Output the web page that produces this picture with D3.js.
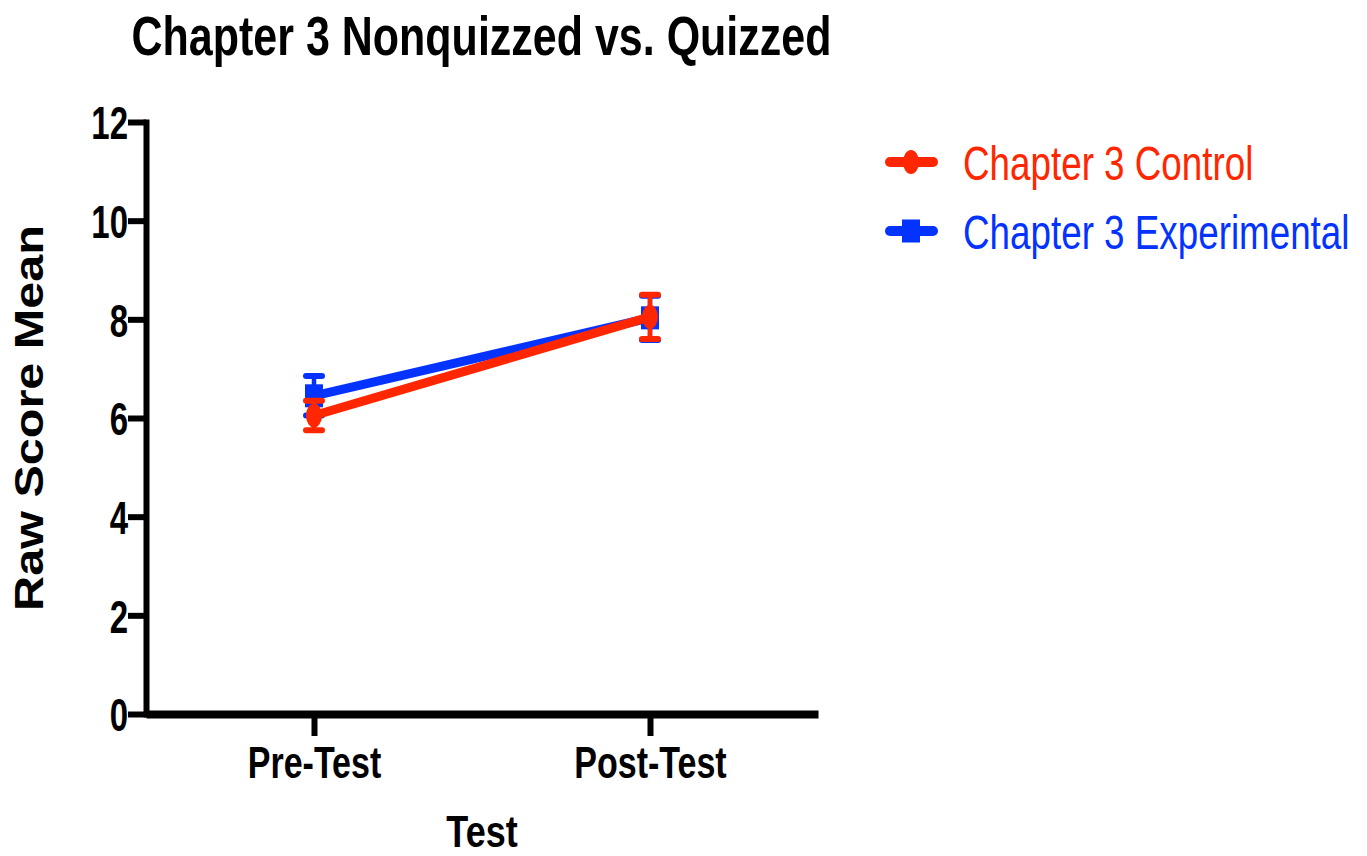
<!DOCTYPE html>
<html lang="en">
<head>
    <meta charset="UTF-8">
    <title>Chapter 3 Nonquizzed vs. Quizzed</title>
    <script src="https://d3js.org/d3.v7.min.js"></script>
    <style>
        body { margin: 0; background: #fff; }
        svg { display: block; }
        text { font-family: "Liberation Sans", Arial, sans-serif; }
    </style>
</head>
<body>
<svg id="chart" width="1367" height="856"></svg>
<script>
    // data
    const categories = ["Pre-Test", "Post-Test"];
    const controlMean = [6.05, 8.05];
    const controlErr = [0.3, 0.45];
    const experimentalMean = [6.45, 8.03];
    const experimentalErr = [0.4, 0.45];
    const yTicks = [0, 2, 4, 6, 8, 10, 12];
    const seriesNames = ["Chapter 3 Control", "Chapter 3 Experimental"];
    const seriesColors = ["#ff2600", "#0433ff"];

    const series = [
        {name: seriesNames[1], color: seriesColors[1], mean: experimentalMean, err: experimentalErr, shape: "square"},
        {name: seriesNames[0], color: seriesColors[0], mean: controlMean, err: controlErr, shape: "circle"}
    ];

    const svg = d3.select("#chart");

    const plotLeft = 146, plotRight = 818, plotTop = 122, plotBottom = 714;

    const x = d3.scalePoint().domain(categories).range([plotLeft, plotRight]).padding(0.5);
    const y = d3.scaleLinear().domain([0, 12]).range([plotBottom, plotTop]);

    // stretched text helper (the original chart is taller than it is wide)
    function label(g, txt, tx, ty, size, sy, opts = {}) {
        const t = g.append("text")
            .attr("transform", opts.rotate
                ? `translate(${tx},${ty}) rotate(-90) scale(${sy},1)`
                : `translate(${tx},${ty}) scale(1,${sy})`)
            .attr("font-size", size)
            .attr("text-anchor", opts.anchor || "middle")
            .attr("fill", opts.fill || "#000")
            .text(txt);
        if (opts.bold !== false) t.attr("font-weight", "bold");
        return t;
    }

    // title
    label(svg, "Chapter 3 Nonquizzed vs. Quizzed", 481.5, 55, 43, 1.3);

    // y axis
    const yAxis = svg.append("g")
        .attr("transform", `translate(${plotLeft},0)`)
        .call(d3.axisLeft(y).tickValues(yTicks).tickSize(18).tickSizeOuter(0).tickFormat(d3.format("d")));
    yAxis.select(".domain").attr("stroke-width", 6).attr("stroke-linecap", "square");
    yAxis.selectAll(".tick line").attr("stroke-width", 6);
    yAxis.selectAll(".tick text")
        .attr("x", -18)
        .attr("dy", "0.36em")
        .attr("font-size", 33)
        .attr("font-weight", "bold")
        .attr("font-family", "'Liberation Sans', Arial, sans-serif")
        .attr("transform", "scale(1,1.42)");

    // x axis
    const xAxis = svg.append("g")
        .attr("transform", `translate(0,${plotBottom})`)
        .call(d3.axisBottom(x).tickSize(22).tickSizeOuter(0));
    xAxis.select(".domain").attr("stroke-width", 8);
    xAxis.selectAll(".tick line").attr("stroke-width", 6);
    xAxis.selectAll(".tick text")
        .attr("y", 64 / 1.28)
        .attr("dy", 0)
        .attr("font-size", 34)
        .attr("font-weight", "bold")
        .attr("font-family", "'Liberation Sans', Arial, sans-serif")
        .attr("transform", "scale(1,1.28)");

    // axis titles
    label(svg, "Test", 482, 847, 36, 1.25);
    label(svg, "Raw Score Mean", 43, 418, 41.5, 1.17, {rotate: true});

    function marker(g, shape, cx, cy, color) {
        if (shape === "circle") {
            g.append("ellipse").attr("cx", cx).attr("cy", cy)
                .attr("rx", 8).attr("ry", 12).attr("fill", color);
        } else {
            g.append("rect").attr("x", cx - 9).attr("y", cy - 11.5)
                .attr("width", 18).attr("height", 23).attr("fill", color);
        }
    }

    const line = d3.line().x((d, i) => x(categories[i])).y(d => y(d));

    series.forEach(s => {
        const g = svg.append("g");
        // error bars
        s.mean.forEach((m, i) => {
            const cx = x(categories[i]);
            g.append("line")
                .attr("x1", cx).attr("x2", cx)
                .attr("y1", y(m + s.err[i])).attr("y2", y(m - s.err[i]))
                .attr("stroke", s.color).attr("stroke-width", 4.5);
            [m + s.err[i], m - s.err[i]].forEach(v => {
                g.append("line")
                    .attr("x1", cx - 8).attr("x2", cx + 8)
                    .attr("y1", y(v)).attr("y2", y(v))
                    .attr("stroke", s.color).attr("stroke-width", 6)
                    .attr("stroke-linecap", "round");
            });
        });
        g.append("path")
            .attr("d", line(s.mean))
            .attr("fill", "none")
            .attr("stroke", s.color)
            .attr("stroke-width", 9);
        s.mean.forEach((m, i) => marker(g, s.shape, x(categories[i]), y(m), s.color));
    });

    // legend
    const legend = svg.append("g");
    const legendRows = [
        {name: seriesNames[0], color: seriesColors[0], shape: "circle", y: 162},
        {name: seriesNames[1], color: seriesColors[1], shape: "square", y: 231}
    ];
    legendRows.forEach(r => {
        legend.append("line")
            .attr("x1", 890).attr("x2", 933)
            .attr("y1", r.y).attr("y2", r.y)
            .attr("stroke", r.color).attr("stroke-width", 10)
            .attr("stroke-linecap", "round");
        marker(legend, r.shape, 911, r.y, r.color);
        label(legend, r.name, 963, r.y + 18, 36.8, 1.32, {anchor: "start", fill: r.color, bold: false});
    });
</script>
</body>
</html>
